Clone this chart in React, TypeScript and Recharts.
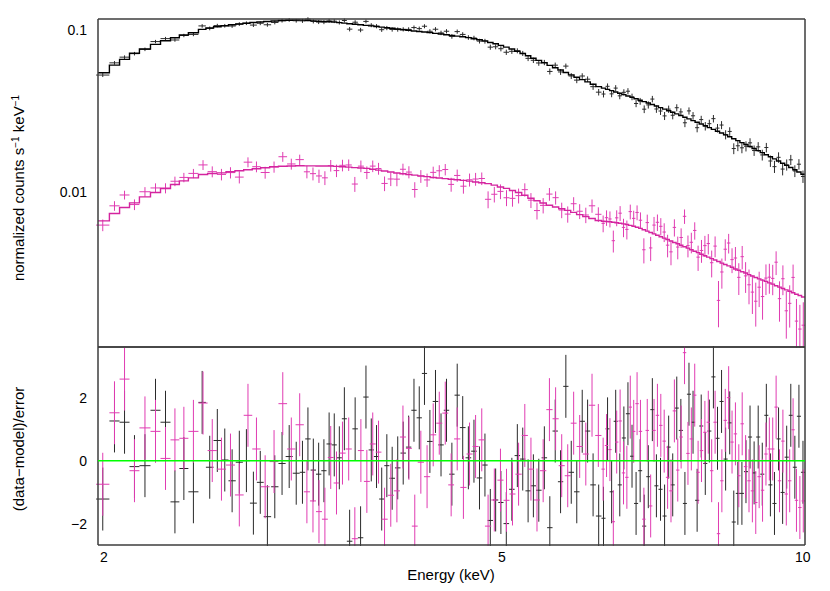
import React from 'react';
import {
  ComposedChart,
  Line,
  Scatter,
  ErrorBar,
  XAxis,
  YAxis,
  ReferenceLine,
} from 'recharts';

// Spectrum bins (keV), black = first instrument, magenta = second instrument
const blackEdges = [
  1.965, 2.026, 2.074, 2.122, 2.171, 2.227, 2.279, 2.332, 2.38, 2.43, 2.487,
  2.53, 2.575, 2.62, 2.665, 2.71, 2.755, 2.8, 2.845, 2.89, 2.94, 2.99, 3.04, 3.09, 3.14,
  3.18, 3.22, 3.26, 3.3, 3.34, 3.38, 3.42, 3.46, 3.5, 3.545, 3.59, 3.635, 3.68, 3.725,
  3.77, 3.815, 3.86, 3.91, 3.96, 4.01, 4.06, 4.11, 4.16, 4.21, 4.265, 4.32, 4.375, 4.43,
  4.485, 4.54, 4.6, 4.66, 4.72, 4.78, 4.84, 4.9, 4.96, 5.02, 5.085, 5.15, 5.215, 5.28,
  5.345, 5.41, 5.48, 5.55, 5.62, 5.69, 5.76, 5.83, 5.905, 5.98, 6.055, 6.13, 6.21, 6.29,
  6.349, 6.409, 6.469, 6.53, 6.592, 6.654, 6.717, 6.78, 6.844, 6.908, 6.973, 7.039,
  7.105, 7.172, 7.24, 7.308, 7.377, 7.446, 7.516, 7.587, 7.658, 7.73, 7.803, 7.877,
  7.951, 8.026, 8.101, 8.178, 8.255, 8.332, 8.411, 8.49, 8.57, 8.651, 8.732, 8.814,
  8.897, 8.981, 9.066, 9.151, 9.237, 9.324, 9.412, 9.501, 9.59, 9.681, 9.772, 9.864,
  9.957, 10.05,
];

const blackModel = [
  0.0545, 0.0607, 0.0659, 0.0718, 0.0763, 0.0816, 0.0859, 0.0896, 0.0931, 0.0962,
  0.101, 0.103, 0.1048, 0.1062, 0.1077, 0.109, 0.1102, 0.1112, 0.1121, 0.113, 0.1138,
  0.1145, 0.115, 0.1153,
  0.1151, 0.1145, 0.114, 0.1134, 0.1129, 0.1124, 0.1119, 0.1111, 0.1103, 0.1094,
  0.1086, 0.1077, 0.1068, 0.1061, 0.1052, 0.1043, 0.1034, 0.1025, 0.1014, 0.1003,
  0.0996, 0.0987, 0.0979, 0.0972, 0.0964, 0.0954, 0.0945, 0.0935, 0.0926, 0.0917,
  0.0908, 0.0897, 0.0884, 0.087, 0.0857, 0.0838, 0.0823, 0.0804, 0.0784, 0.0763,
  0.074, 0.0716, 0.0693, 0.067, 0.0649, 0.0628, 0.0605, 0.0585, 0.0566, 0.0547,
  0.0528, 0.0511, 0.0494, 0.0478, 0.0462, 0.0447,
  0.04376, 0.04298, 0.04221, 0.04144, 0.04066, 0.03991, 0.03914, 0.03838, 0.03762,
  0.03686, 0.03611, 0.03538, 0.03464, 0.0339, 0.03317, 0.03244, 0.03172, 0.03103,
  0.03032, 0.02963, 0.02893, 0.02825, 0.02757, 0.02692, 0.02626, 0.02561, 0.02496,
  0.02433, 0.02371, 0.0231, 0.02249, 0.02189, 0.02131, 0.02073, 0.02016, 0.01962,
  0.01907, 0.01853, 0.01799, 0.01747, 0.01696, 0.01648, 0.01599, 0.01551, 0.01503,
  0.01457, 0.01413, 0.0137, 0.01327, 0.01285,
];

const blackResid = [
  -1.22, 1.26, 1.22, -0.19, -0.16, 1.6, 1.22, -1.31, -0.25, -0.99,
  1.85, -0.21, 0.64, 0.02, -0.64, -0.05, 0.0, -1.35, -0.69, -1.78, -0.83, -0.09, 0.13, -0.4,
  -0.37, 0.69, -0.3, -0.43, -0.32, 0.53, 0.5, 0.09, 1.33, -2.56, 1.01, -2.45, 2.02, 0.34,
  0.13, -1.22, -0.16, -0.56, -0.23, 0.24, 0.43, 1.6, 1.36, 2.77, 0.61, 1.88, 0.5, 1.6,
  -0.43, 2.08, 1.05, 0.09, 0.3, -0.55, -0.14, -1.9, -1.25, -1.33, -2.0, -0.91, 0.16, 0.05,
  -0.96, -0.8, -0.94, 0.09, -2.13, 0.94, -0.67, 2.36, -0.37, -0.99, 1.25, 0.94, -0.77, -1.76,
  -1.83, 1.01, -0.99, 1.25, -0.77, 0.72, 1.49, 0.14, -1.36, -0.32, -2.08, -0.51, 1.62,
  -0.8, -0.91, -1.76, 0.43, -0.77, 1.67, 0.96, -1.36, 2.11, 1.22, -1.26, 1.1, -0.09, 0.94,
  2.66, 0.71, 1.88, 0.05, 1.2, -1.95, -1.04, -1.04, -0.35, 0.75, -0.39, 0.75, -0.43, 1.44,
  -0.77, -1.36, 0.69, -1.01, 0.11, 1.44, -0.21, 1.41, -0.37,
];

const blackRelErr = [
  0.027, 0.026, 0.026, 0.025, 0.025, 0.025, 0.025, 0.024, 0.024, 0.024,
  0.027, 0.027, 0.026, 0.026, 0.026, 0.026, 0.026, 0.026, 0.026, 0.026, 0.026, 0.026, 0.026, 0.026,
  0.028, 0.028, 0.028, 0.028, 0.028, 0.028, 0.028, 0.029, 0.029, 0.029,
  0.029, 0.029, 0.029, 0.029, 0.03, 0.03, 0.03, 0.03, 0.03, 0.03,
  0.031, 0.031, 0.031, 0.031, 0.031, 0.032, 0.032, 0.032, 0.032, 0.032,
  0.033, 0.033, 0.033, 0.033, 0.034, 0.034, 0.034, 0.035, 0.035, 0.035,
  0.036, 0.036, 0.037, 0.037, 0.038, 0.038, 0.039, 0.039, 0.04, 0.04,
  0.041, 0.041, 0.042, 0.042, 0.043, 0.043,
  0.044, 0.044, 0.045, 0.045, 0.046, 0.046, 0.047, 0.047, 0.048, 0.048,
  0.049, 0.05, 0.05, 0.051, 0.052, 0.052, 0.053, 0.054, 0.055, 0.055,
  0.056, 0.057, 0.058, 0.059, 0.059, 0.06, 0.061, 0.062, 0.063, 0.064,
  0.065, 0.066, 0.067, 0.068, 0.069, 0.07, 0.071, 0.072, 0.073, 0.074,
  0.075, 0.076, 0.077, 0.078, 0.079, 0.08, 0.081, 0.082, 0.083, 0.085,
];

const magentaEdges = [
  1.965, 2.026, 2.074, 2.122, 2.171, 2.227, 2.279, 2.332, 2.38, 2.43, 2.487,
  2.54, 2.595, 2.65, 2.705, 2.76, 2.815, 2.87, 2.93, 2.99, 3.05, 3.11, 3.17,
  3.215, 3.26, 3.305, 3.35, 3.395, 3.44, 3.49, 3.54, 3.59, 3.64, 3.69, 3.74, 3.79,
  3.845, 3.9, 3.955, 4.01, 4.065, 4.12, 4.18, 4.24, 4.3, 4.36, 4.42, 4.48, 4.545,
  4.61, 4.675, 4.74, 4.81, 4.88, 4.95, 5.02, 5.09, 5.16, 5.235, 5.31, 5.385, 5.46,
  5.54, 5.62, 5.7, 5.78, 5.86, 5.94, 6.025, 6.11, 6.2, 6.29,
  6.339, 6.389, 6.439, 6.489, 6.54, 6.592, 6.643, 6.695, 6.748, 6.801, 6.854, 6.908,
  6.962, 7.017, 7.072, 7.127, 7.183, 7.239, 7.296, 7.353, 7.411, 7.469, 7.527, 7.586,
  7.646, 7.706, 7.766, 7.827, 7.888, 7.95, 8.013, 8.075, 8.139, 8.203, 8.267, 8.332,
  8.397, 8.463, 8.529, 8.596, 8.663, 8.731, 8.8, 8.869, 8.938, 9.008, 9.079, 9.15,
  9.222, 9.294, 9.367, 9.44, 9.514, 9.589, 9.664, 9.74, 9.816, 9.893, 9.971, 10.05,
];

const magentaModel = [
  0.00662, 0.00735, 0.00801, 0.00855, 0.00931, 0.00991, 0.01049, 0.01111, 0.0117, 0.01221,
  0.0128, 0.013, 0.0131, 0.0133, 0.0135, 0.0137, 0.0139, 0.0141, 0.0143, 0.0144, 0.01445, 0.0145,
  0.01448, 0.01448, 0.01446, 0.01444, 0.01442, 0.01438, 0.0143, 0.01422, 0.01412, 0.01404,
  0.01396, 0.0138, 0.01362, 0.01345, 0.01328, 0.01309, 0.01294, 0.01281, 0.01269, 0.01255,
  0.01242, 0.01228, 0.01218, 0.01207, 0.01197, 0.01187, 0.01177, 0.01165, 0.01151, 0.01138,
  0.01124, 0.011, 0.01072, 0.01051, 0.0102, 0.00991, 0.00954, 0.00914, 0.00881, 0.00854,
  0.00827, 0.00806, 0.00786, 0.00769, 0.00747, 0.00723, 0.00703, 0.00684, 0.00666,
  0.00659, 0.00656, 0.00653, 0.00649, 0.00645, 0.0064, 0.00634, 0.00628, 0.00621, 0.00613,
  0.00604, 0.00595, 0.00583, 0.00572, 0.00561, 0.0055, 0.00539, 0.00528, 0.00518, 0.00508,
  0.00497, 0.00487, 0.00478, 0.00468, 0.00458, 0.00449, 0.00439, 0.0043, 0.00421, 0.00412,
  0.00403, 0.00395, 0.00387, 0.00379, 0.00371, 0.00363, 0.00356, 0.00349, 0.00342, 0.00334,
  0.00328, 0.00321, 0.00315, 0.00308, 0.00302, 0.00296, 0.0029, 0.00285, 0.0028, 0.00274,
  0.00269, 0.00263, 0.00258, 0.00253, 0.00248, 0.00243, 0.00238, 0.00233, 0.00229, 0.00224,
];

const magentaResid = [
  -0.75, 1.52, 2.59, -0.32, 1.04, 0.93, 0.07, 0.66, 0.71, 0.93,
  1.83, 0.32, -0.27, -0.14, -1.09, 1.44, 0.37, -0.83, -0.03, 1.81, 0.37, 1.14,
  -0.99, -1.28, -1.62, -1.86, 0.1, -0.71, 0.24, 0.37, -2.48, 0.32,
  -0.66, 0.53, 0.27, -1.86, -1.1, -0.96, 0.75, 0.39, -2.08, -0.05,
  -0.51, 0.82, 1.19, 1.51, -0.77, 0.69, -0.85, 0.21, 0.45, 0.66,
  -2.08, -1.25, -0.62, -1.26, -1.06, -0.43, 0.8, -0.27, -1.25, -0.32,
  1.62, 1.33, -0.16, -0.48, 1.19, 0.45, 0.21, 1.76, 0.8,
  -0.27, 0.48, 0.35, -1.94, 0.59, 1.26, -0.39, -0.53, 1.7, 0.93,
  1.81, 0.93, -1.86, 0.96, -1.44, 0.96, 1.44, 1.12, 0.62, -0.53,
  -0.96, 1.58, -0.3, 0.75, 3.43, 0.23, 0.69, 2.08, -0.37, 0.32,
  0.9, 1.22, -0.32, 1.22, -2.32, -0.64, 1.28, 2.0, 0.59, 0.85,
  -0.48, 1.17, -0.19, -0.64, -0.96, -1.33, -0.51, -0.94, 0.21, 0.37,
  0.37, 1.7, -0.64, 0.62, -1.06, -0.64, 0.98, -1.26, -1.49, -1.28,
];

const magentaRelErr = [
  0.078, 0.076, 0.075, 0.074, 0.073, 0.072, 0.072, 0.071, 0.07, 0.07,
  0.08, 0.08, 0.08, 0.079, 0.079, 0.079, 0.079, 0.079, 0.079, 0.08, 0.08, 0.08,
  0.082, 0.082, 0.082, 0.083, 0.083, 0.083, 0.084, 0.084, 0.084, 0.085,
  0.085, 0.086, 0.086, 0.087, 0.087, 0.088, 0.088, 0.089, 0.089, 0.09,
  0.09, 0.091, 0.091, 0.092, 0.092, 0.093, 0.093, 0.094, 0.095, 0.095,
  0.096, 0.097, 0.098, 0.099, 0.1, 0.101, 0.102, 0.103, 0.104, 0.105,
  0.106, 0.107, 0.108, 0.109, 0.11, 0.111, 0.112, 0.113, 0.114,
  0.115, 0.116, 0.118, 0.119, 0.121, 0.122, 0.124, 0.125, 0.127, 0.128,
  0.13, 0.132, 0.133, 0.135, 0.137, 0.139, 0.141, 0.143, 0.145, 0.147,
  0.149, 0.151, 0.153, 0.155, 0.158, 0.16, 0.162, 0.165, 0.167, 0.17,
  0.172, 0.175, 0.178, 0.18, 0.183, 0.186, 0.189, 0.192, 0.195, 0.198,
  0.201, 0.204, 0.207, 0.21, 0.213, 0.216, 0.219, 0.222, 0.225, 0.228,
  0.231, 0.234, 0.237, 0.24, 0.243, 0.246, 0.249, 0.252, 0.255, 0.258,
];

// axis ticks
const xLabelTicks = [2, 5, 10];
const xTickMarks = [2, 3, 4, 5, 6, 7, 8, 9, 10];
const topLabelTicks = [0.01, 0.1];
const topMinorTicks = [
  0.002, 0.003, 0.004, 0.005, 0.006, 0.007, 0.008, 0.009,
  0.02, 0.03, 0.04, 0.05, 0.06, 0.07, 0.08, 0.09,
];
const resLabelTicks = [-2, 0, 2];
const resMinorTicks = [-1, 1, 3];

const X_DOMAIN = [1.9735, 10.05];
const TOP_DOMAIN = [0.0011, 0.117];
const RES_DOMAIN = [-2.68, 3.61];

const W = 830;
const H = 591;
const FONT = '"Liberation Sans", Arial, Helvetica, sans-serif';
const FRAME = '#3c3c3c';
const BLACK = '#000000';
const BLACK_BAR = '#2a2a2a';
const MAGENTA = '#d4249f';
const MAGENTA_BAR = '#e03cb2';
const THIN = 0.01; // tick-only axes must have a non-zero size to be drawn

// data points: value = model + residual * error, x error = half bin
function buildPoints(edges: number[], model: number[], resid: number[], relErr: number[]) {
  const pts = [];
  for (let i = 0; i < model.length; i++) {
    const lo = edges[i];
    const hi = edges[i + 1];
    if (lo === undefined || hi === undefined || resid[i] === undefined || relErr[i] === undefined) continue;
    const e = Math.sqrt(lo * hi);
    const err = model[i] * relErr[i];
    const y = model[i] + resid[i] * err;
    pts.push({
      e,
      y,
      r: resid[i],
      ex: [e - lo, hi - e],
      ey: [Math.min(err, y * 0.97), err],
      er: 1,
    });
  }
  return pts;
}

// histogram model: one point at each lower edge, closed by the last upper edge
function buildSteps(edges: number[], model: number[]) {
  const steps = model.map((m, i) => ({ e: edges[i], m }));
  steps.push({ e: edges[model.length], m: model[model.length - 1] });
  return steps;
}

const blackPts = buildPoints(blackEdges, blackModel, blackResid, blackRelErr);
const magentaPts = buildPoints(magentaEdges, magentaModel, magentaResid, magentaRelErr);
const blackSteps = buildSteps(blackEdges, blackModel);
const magentaSteps = buildSteps(magentaEdges, magentaModel);

const tickFont = { fontFamily: FONT, fontSize: 14, fill: '#000' };
const noMark = () => <g />;
const fmtRes = (v: number) => (v < 0 ? `\u2212${Math.abs(v)}` : `${v}`);

// tick-only frame axes (inward ticks, no labels)
function frameX(id: string, orientation: 'top' | 'bottom', ticks: number[], size: number, line: boolean) {
  return (
    <XAxis
      key={id}
      xAxisId={id}
      dataKey="e"
      orientation={orientation}
      mirror
      height={THIN}
      type="number"
      scale="log"
      domain={X_DOMAIN}
      allowDataOverflow
      ticks={ticks}
      interval={0}
      tick={false}
      tickSize={size}
      tickLine={{ stroke: FRAME, strokeWidth: 1.2 }}
      axisLine={line ? { stroke: FRAME, strokeWidth: 1.5 } : false}
    />
  );
}

function frameY(
  id: string,
  orientation: 'left' | 'right',
  ticks: number[],
  size: number,
  line: boolean,
  domain: number[],
  log: boolean,
) {
  return (
    <YAxis
      key={id}
      yAxisId={id}
      orientation={orientation}
      mirror
      width={THIN}
      type="number"
      scale={log ? 'log' : 'linear'}
      domain={domain}
      allowDataOverflow
      ticks={ticks}
      interval={0}
      tick={false}
      tickSize={size}
      tickLine={{ stroke: FRAME, strokeWidth: 1.2 }}
      axisLine={line ? { stroke: FRAME, strokeWidth: 1.5 } : false}
    />
  );
}

export default function App() {
  return (
    <div style={{ position: 'absolute', left: 0, top: 0, width: W, height: H, background: '#fff' }}>
      {/* upper panel: folded spectra, clipped at the panel's lower frame */}
      <div style={{ position: 'absolute', left: 0, top: 0, width: W, height: 348, overflow: 'hidden' }}>
        <ComposedChart width={W} height={H} margin={{ top: 19, right: 25, bottom: 244, left: 0 }}>
          <XAxis xAxisId="x" dataKey="e" type="number" scale="log" domain={X_DOMAIN} allowDataOverflow hide />
          <YAxis
            yAxisId="y"
            type="number"
            scale="log"
            domain={TOP_DOMAIN}
            allowDataOverflow
            width={98}
            ticks={topLabelTicks}
            interval={0}
            tick={tickFont}
            tickLine={false}
            axisLine={false}
            tickSize={0}
            tickMargin={11}
          />
          {frameX('xt', 'top', xTickMarks, 5, true)}
          {frameX('xb', 'bottom', xTickMarks, 5, true)}
          {frameY('yl', 'left', topLabelTicks, 8, true, TOP_DOMAIN, true)}
          {frameY('yl2', 'left', topMinorTicks, 4, false, TOP_DOMAIN, true)}
          {frameY('yr', 'right', topLabelTicks, 8, true, TOP_DOMAIN, true)}
          {frameY('yr2', 'right', topMinorTicks, 4, false, TOP_DOMAIN, true)}

          <Scatter xAxisId="x" yAxisId="y" data={blackPts} dataKey="y" shape={noMark} isAnimationActive={false}>
            <ErrorBar dataKey="ey" direction="y" width={0} stroke={BLACK_BAR} strokeWidth={1} isAnimationActive={false} />
            <ErrorBar dataKey="ex" direction="x" width={0} stroke={BLACK_BAR} strokeWidth={1} isAnimationActive={false} />
          </Scatter>
          <Line
            xAxisId="x"
            yAxisId="y"
            data={blackSteps}
            dataKey="m"
            type="stepAfter"
            stroke={BLACK}
            strokeWidth={1.4}
            dot={false}
            activeDot={false}
            isAnimationActive={false}
          />
          <Scatter xAxisId="x" yAxisId="y" data={magentaPts} dataKey="y" shape={noMark} isAnimationActive={false}>
            <ErrorBar dataKey="ey" direction="y" width={0} stroke={MAGENTA_BAR} strokeWidth={1} isAnimationActive={false} />
            <ErrorBar dataKey="ex" direction="x" width={0} stroke={MAGENTA_BAR} strokeWidth={1} isAnimationActive={false} />
          </Scatter>
          <Line
            xAxisId="x"
            yAxisId="y"
            data={magentaSteps}
            dataKey="m"
            type="stepAfter"
            stroke={MAGENTA}
            strokeWidth={1.4}
            dot={false}
            activeDot={false}
            isAnimationActive={false}
          />
        </ComposedChart>
      </div>

      {/* lower panel: residuals, clipped to its frame */}
      <div style={{ position: 'absolute', left: 0, top: 346, width: W, height: 200, overflow: 'hidden' }}>
        <div style={{ position: 'absolute', left: 0, top: -346 }}>
          <ComposedChart width={W} height={H} margin={{ top: 347, right: 25, bottom: 46, left: 0 }}>
            <XAxis xAxisId="x" dataKey="e" type="number" scale="log" domain={X_DOMAIN} allowDataOverflow hide />
            <YAxis
              yAxisId="y"
              type="number"
              domain={RES_DOMAIN}
              allowDataOverflow
              width={98}
              ticks={resLabelTicks}
              interval={0}
              tick={tickFont}
              tickFormatter={fmtRes}
              tickLine={false}
              axisLine={false}
              tickSize={0}
              tickMargin={11}
            />
            {frameX('xt', 'top', xTickMarks, 5, true)}
            {frameX('xb', 'bottom', xTickMarks, 5, true)}
            {frameY('yl', 'left', resLabelTicks, 8, true, RES_DOMAIN, false)}
            {frameY('yl2', 'left', resMinorTicks, 4, false, RES_DOMAIN, false)}
            {frameY('yr', 'right', resLabelTicks, 8, true, RES_DOMAIN, false)}
            {frameY('yr2', 'right', resMinorTicks, 4, false, RES_DOMAIN, false)}

            <Scatter xAxisId="x" yAxisId="y" data={blackPts} dataKey="r" shape={noMark} isAnimationActive={false}>
              <ErrorBar dataKey="er" direction="y" width={0} stroke={BLACK_BAR} strokeWidth={1} isAnimationActive={false} />
              <ErrorBar dataKey="ex" direction="x" width={0} stroke={BLACK_BAR} strokeWidth={1} isAnimationActive={false} />
            </Scatter>
            <Scatter xAxisId="x" yAxisId="y" data={magentaPts} dataKey="r" shape={noMark} isAnimationActive={false}>
              <ErrorBar dataKey="er" direction="y" width={0} stroke={MAGENTA_BAR} strokeWidth={1} isAnimationActive={false} />
              <ErrorBar dataKey="ex" direction="x" width={0} stroke={MAGENTA_BAR} strokeWidth={1} isAnimationActive={false} />
            </Scatter>
            <ReferenceLine xAxisId="x" yAxisId="y" y={0} stroke="#00ff00" strokeWidth={1.5} zIndex={1000} />
          </ComposedChart>
        </div>
      </div>

      {/* energy tick labels under the residual panel */}
      <div style={{ position: 'absolute', left: 0, top: 0 }}>
        <ComposedChart width={W} height={H} margin={{ top: 347, right: 25, bottom: 16, left: 98 }}>
          <XAxis
            xAxisId="x"
            dataKey="e"
            type="number"
            scale="log"
            domain={X_DOMAIN}
            allowDataOverflow
            height={30}
            ticks={xLabelTicks}
            interval={0}
            tick={tickFont}
            tickLine={false}
            axisLine={false}
            tickSize={0}
            tickMargin={7}
          />
        </ComposedChart>
      </div>

      {/* axis titles */}
      <svg width={W} height={H} style={{ position: 'absolute', left: 0, top: 0, pointerEvents: 'none' }}>
        <text transform="translate(24,188) rotate(-90)" textAnchor="middle" fontFamily={FONT} fontSize={15} fill="#000">
          normalized counts s<tspan dy={-5} fontSize={10}>{'\u22121'}</tspan>
          <tspan dy={5}> keV</tspan>
          <tspan dy={-5} fontSize={10}>{'\u22121'}</tspan>
        </text>
        <text transform="translate(24,449) rotate(-90)" textAnchor="middle" fontFamily={FONT} fontSize={15} fill="#000">
          {'(data\u2212model)/error'}
        </text>
        <text x={451} y={580} textAnchor="middle" fontFamily={FONT} fontSize={15} fill="#000">
          Energy (keV)
        </text>
      </svg>
    </div>
  );
}
